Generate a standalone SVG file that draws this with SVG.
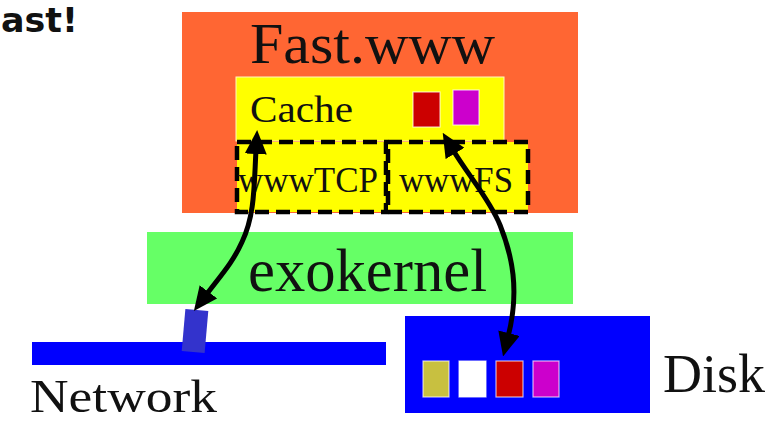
<svg xmlns="http://www.w3.org/2000/svg" width="773" height="423" viewBox="0 0 773 423">
<style>
.serif{font-family:"Liberation Serif","Times New Roman",serif;fill:#111}
.dash{fill:#ffff00;stroke:#000;stroke-width:4.5;stroke-dasharray:14 7}
.blk{stroke:#ffffff;stroke-width:1.2;stroke-opacity:0.7}
.conn{fill:none;stroke:#000;stroke-width:5;stroke-linecap:round}
</style>
<defs>
<marker id="ah" markerUnits="userSpaceOnUse" viewBox="0 0 24 22" markerWidth="24" markerHeight="22" refX="4" refY="11" orient="auto-start-reverse">
<path d="M0,0 L24,11 L0,22 z" fill="#000"/>
</marker>
</defs>
<rect width="773" height="423" fill="#fff"/>
<text x="1" y="32" font-family="DejaVu Sans,sans-serif" font-weight="bold" font-size="34" fill="#111" textLength="77" lengthAdjust="spacingAndGlyphs">ast!</text>
<g id="fastwww">
<rect x="182" y="12" width="396" height="201" fill="#ff6633"/>
<text class="serif" x="250" y="63" font-size="58" textLength="245" lengthAdjust="spacingAndGlyphs">Fast.www</text>
</g>
<g id="cache">
<rect x="236" y="77" width="268" height="64" fill="#ffff00" stroke="#fff8c0" stroke-width="1"/>
<text class="serif" x="250" y="122" font-size="38" textLength="103" lengthAdjust="spacingAndGlyphs">Cache</text>
<rect class="blk" x="413" y="92" width="27" height="35" fill="#cc0000"/>
<rect class="blk" x="453" y="90" width="26" height="35" fill="#cc00cc"/>
</g>
<g id="wwwtcp">
<rect class="dash" x="237" y="142" width="149" height="70"/>
<text class="serif" x="238" y="192" font-size="35" textLength="140" lengthAdjust="spacingAndGlyphs">wwwTCP</text>
</g>
<g id="wwwfs">
<rect class="dash" x="388" y="142" width="140" height="70"/>
<text class="serif" x="399" y="192" font-size="35" textLength="114" lengthAdjust="spacingAndGlyphs">wwwFS</text>
</g>
<g id="exokernel">
<rect x="147" y="232" width="426" height="72" fill="#66ff66"/>
<text class="serif" x="248" y="291" font-size="61" textLength="239" lengthAdjust="spacingAndGlyphs">exokernel</text>
</g>
<g id="network">
<rect x="32" y="342" width="354" height="23" fill="#0000ff"/>
<rect x="-11.5" y="-21" width="23" height="42" fill="#3333cc" transform="translate(195,331) rotate(5)"/>
<text class="serif" x="30" y="412" font-size="47" textLength="187" lengthAdjust="spacingAndGlyphs">Network</text>
</g>
<g id="disk">
<rect x="405" y="316" width="245" height="97" fill="#0000ff"/>
<rect class="blk" x="423" y="361" width="26" height="36" fill="#c8c040"/>
<rect class="blk" x="459" y="361" width="27" height="36" fill="#ffffff"/>
<rect class="blk" x="496" y="361" width="27" height="36" fill="#cc0000"/>
<rect class="blk" x="533" y="361" width="26" height="36" fill="#cc00cc"/>
<text class="serif" x="663" y="392" font-size="55" textLength="102" lengthAdjust="spacingAndGlyphs">Disk</text>
</g>
<g id="connectors">
<path class="conn" d="M256 150 C254 185, 255 215, 242 242 C233 262, 222 274, 206 295" marker-start="url(#ah)" marker-end="url(#ah)"/>
<path class="conn" d="M453 150 C468 175, 490 200, 500 225 C512 255, 520 290, 508 337" marker-start="url(#ah)" marker-end="url(#ah)"/>
</g>
</svg>
